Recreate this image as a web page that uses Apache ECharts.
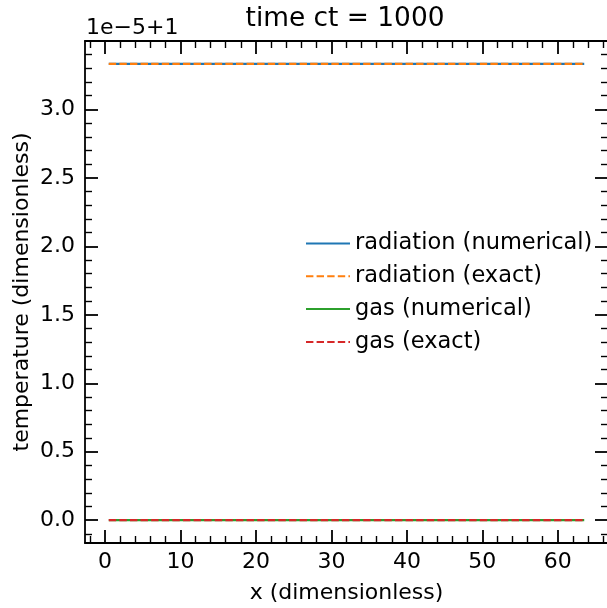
<!DOCTYPE html>
<html><head><meta charset="utf-8">
<script src="https://cdn.jsdelivr.net/npm/echarts@6/dist/echarts.min.js"></script>
<style>html,body{margin:0;padding:0;background:#fff}#c{width:607px;height:608px}</style>
</head><body><div id="c"></div>
<script>
// x cell centres (dimensionless)
const xCells = [0.5,1.5,2.5,3.5,4.5,5.5,6.5,7.5,8.5,9.5,10.5,11.5,12.5,13.5,14.5,15.5,16.5,17.5,18.5,19.5,20.5,21.5,22.5,23.5,24.5,25.5,26.5,27.5,28.5,29.5,30.5,31.5,32.5,33.5,34.5,35.5,36.5,37.5,38.5,39.5,40.5,41.5,42.5,43.5,44.5,45.5,46.5,47.5,48.5,49.5,50.5,51.5,52.5,53.5,54.5,55.5,56.5,57.5,58.5,59.5,60.5,61.5,62.5,63.5];
// temperatures, expressed as (T - 1) in units of 1e-5
const radiationNumerical = [3.333,3.333,3.333,3.333,3.333,3.333,3.333,3.333,3.333,3.333,3.333,3.333,3.333,3.333,3.333,3.333,3.333,3.333,3.333,3.333,3.333,3.333,3.333,3.333,3.333,3.333,3.333,3.333,3.333,3.333,3.333,3.333,3.333,3.333,3.333,3.333,3.333,3.333,3.333,3.333,3.333,3.333,3.333,3.333,3.333,3.333,3.333,3.333,3.333,3.333,3.333,3.333,3.333,3.333,3.333,3.333,3.333,3.333,3.333,3.333,3.333,3.333,3.333,3.333];
const radiationExact = [3.333,3.333,3.333,3.333,3.333,3.333,3.333,3.333,3.333,3.333,3.333,3.333,3.333,3.333,3.333,3.333,3.333,3.333,3.333,3.333,3.333,3.333,3.333,3.333,3.333,3.333,3.333,3.333,3.333,3.333,3.333,3.333,3.333,3.333,3.333,3.333,3.333,3.333,3.333,3.333,3.333,3.333,3.333,3.333,3.333,3.333,3.333,3.333,3.333,3.333,3.333,3.333,3.333,3.333,3.333,3.333,3.333,3.333,3.333,3.333,3.333,3.333,3.333,3.333];
const gasNumerical = [0,0,0,0,0,0,0,0,0,0,0,0,0,0,0,0,0,0,0,0,0,0,0,0,0,0,0,0,0,0,0,0,0,0,0,0,0,0,0,0,0,0,0,0,0,0,0,0,0,0,0,0,0,0,0,0,0,0,0,0,0,0,0,0];
const gasExact = [0,0,0,0,0,0,0,0,0,0,0,0,0,0,0,0,0,0,0,0,0,0,0,0,0,0,0,0,0,0,0,0,0,0,0,0,0,0,0,0,0,0,0,0,0,0,0,0,0,0,0,0,0,0,0,0,0,0,0,0,0,0,0,0];
const seriesNames = ['radiation (numerical)','radiation (exact)','gas (numerical)','gas (exact)'];
const xMajorTicks = [0,10,20,30,40,50,60];
const xMinorTicks = [-2,2,4,6,8,12,14,16,18,22,24,26,28,32,34,36,38,42,44,46,48,52,54,56,58,62,64,66];
const yMajorTicks = [0,0.5,1,1.5,2,2.5,3];
const yMinorTicks = [-0.1,0.1,0.2,0.3,0.4,0.6,0.7,0.8,0.9,1.1,1.2,1.3,1.4,1.6,1.7,1.8,1.9,2.1,2.2,2.3,2.4,2.6,2.7,2.8,2.9,3.1,3.2,3.3,3.4];
const titleText = 'time ct = 1000';
const offsetText = '1e\u22125+1';
const xName = 'x (dimensionless)';
const yName = 'temperature (dimensionless)';

const FONT = 'DejaVu Sans';
const X_MIN = -2.65, X_MAX = 66.65, Y_MIN = -0.16665, Y_MAX = 3.49965;

function mkAxis(kind, pos, ticks, len, w, withLabels, withLine, extra) {
  const a = {
    type: 'value', position: pos,
    min: kind === 'x' ? X_MIN : Y_MIN, max: kind === 'x' ? X_MAX : Y_MAX,
    splitLine: {show: false},
    nameMoveOverlap: false,
    axisLine: {show: withLine, onZero: false, lineStyle: {color: '#000', width: 1.8}},
    axisTick: {show: true, inside: true, length: len, customValues: ticks, lineStyle: {color: '#000', width: w}},
    axisLabel: withLabels ? {show: true, customValues: ticks, color: '#000', fontFamily: FONT, fontSize: 22,
      margin: kind === 'x' ? 8 : 10, formatter: kind === 'x' ? (v => String(v)) : (v => v.toFixed(1))} : {show: false}
  };
  return Object.assign(a, extra || {});
}

const xAxes = [
  mkAxis('x','bottom',xMajorTicks,13,1.8,true,true,{name: xName, nameLocation:'middle', nameGap: 39,
    nameTextStyle:{color:'#000', fontFamily: FONT, fontSize: 22}}),
  mkAxis('x','bottom',xMinorTicks,7,1.4,false,false),
  mkAxis('x','top',xMajorTicks,13,1.8,false,true),
  mkAxis('x','top',xMinorTicks,7,1.4,false,false)
];
const yAxes = [
  mkAxis('y','left',yMajorTicks,13,1.8,true,true,{name: yName, nameLocation:'middle', nameGap: 52,
    nameTextStyle:{color:'#000', fontFamily: FONT, fontSize: 22}}),
  mkAxis('y','left',yMinorTicks,7,1.4,false,false),
  mkAxis('y','right',yMajorTicks,13,1.8,false,true),
  mkAxis('y','right',yMinorTicks,7,1.4,false,false)
];

function pairs(ys) { return xCells.map((x, i) => [x, ys[i]]); }
const colors = ['#1f77b4','#ff7f0e','#2ca02c','#d62728'];
const dataSets = [radiationNumerical, radiationExact, gasNumerical, gasExact];
const dashed = [false, true, false, true];

const series = dataSets.map((d, i) => ({
  name: seriesNames[i], type: 'line', data: pairs(d), xAxisIndex: 0, yAxisIndex: 0,
  symbol: 'none', showSymbol: false, animation: false, z: 2 + i,
  lineStyle: {color: colors[i], width: 2.2, type: dashed[i] ? [7.4, 3.2] : 'solid'},
  itemStyle: {color: colors[i]}
}));

const chart = echarts.init(document.getElementById('c'), null, {renderer: 'canvas'});
chart.setOption({
  animation: false,
  backgroundColor: '#fff',
  grid: {left: 85, right: -1, top: 41, bottom: 65, containLabel: false, outerBoundsMode: 'none'},
  xAxis: xAxes,
  yAxis: yAxes,
  legend: {
    orient: 'vertical', left: 305, top: 232, padding: 0, itemWidth: 44, itemHeight: 14, itemGap: 9.8,
    data: seriesNames,
    itemStyle: {opacity: 0},
    textStyle: {color: '#000', fontFamily: FONT, fontSize: 22.5, lineHeight: 22},
    selectedMode: false
  },
  graphic: [
    {type: 'text', style: {text: titleText, x: 345, y: 19, textAlign: 'center', textVerticalAlign: 'middle',
      fontFamily: FONT, fontSize: 26.4, fill: '#000'}},
    {type: 'text', style: {text: offsetText, x: 86, y: 28, textAlign: 'left', textVerticalAlign: 'middle',
      fontFamily: FONT, fontSize: 22, fill: '#000'}}
  ],
  series: series
});
</script></body></html>
